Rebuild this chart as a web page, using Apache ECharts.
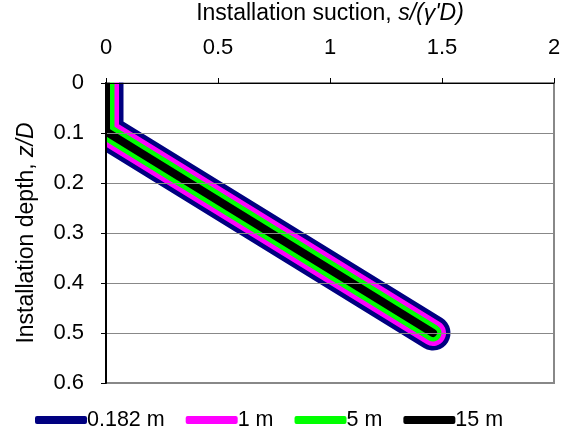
<!DOCTYPE html>
<html>
<head>
<meta charset="utf-8">
<script src="https://cdn.jsdelivr.net/npm/echarts@6/dist/echarts.min.js"></script>
<style>
html,body{margin:0;padding:0;background:#fff;}
#c{width:570px;height:439px;}
</style>
</head>
<body>
<div id="c"></div>
<script>
// Data
const seriesNames = ['0.182 m', '1 m', '5 m', '15 m'];
const seriesColors = ['#000080', '#FF00FF', '#00FF00', '#000000'];
const depth_0182 = [0, 0.097, 0.5];
const suction_0182 = [0, 0, 1.46];
const depth_1 = [0, 0.097, 0.5];
const suction_1 = [0, 0, 1.46];
const depth_5 = [0, 0.097, 0.5];
const suction_5 = [0, 0, 1.46];
const depth_15 = [0, 0.097, 0.5];
const suction_15 = [0, 0, 1.46];
const xTicks = [0, 0.5, 1, 1.5, 2];
const yTicks = [0, 0.1, 0.2, 0.3, 0.4, 0.5, 0.6];

const depths = [depth_0182, depth_1, depth_5, depth_15];
const suctions = [suction_0182, suction_1, suction_5, suction_15];
const widths = [35, 26, 17, 8];
const FONT = 'Liberation Sans';

const chart = echarts.init(document.getElementById('c'), null, {renderer: 'canvas'});
chart.setOption({
  animation: false,
  backgroundColor: '#fff',
  textStyle: {fontFamily: FONT},
  grid: {left: 106, right: 16, top: 83, bottom: 56, outerBoundsMode: 'none', containLabel: false,
         show: true, borderColor: '#888', borderWidth: 2, backgroundColor: 'transparent'},
  // white masks (own layer) so the thick strokes are cut at the plot edge, as in the reference
  graphic: {
    zlevel: 1,
    elements: [
      {type: 'rect', zlevel: 1, silent: true, shape: {x: 40, y: 40, width: 65, height: 120}, style: {fill: '#fff'}},
      {type: 'rect', zlevel: 1, silent: true, shape: {x: 40, y: 40, width: 200, height: 42.5}, style: {fill: '#fff'}}
    ]
  },
  legend: {
    bottom: 3, left: 30,
    icon: 'roundRect', itemWidth: 52, itemHeight: 8, itemGap: 21,
    textStyle: {fontFamily: FONT, fontSize: 21.5, color: '#000', padding: [0, 0, 0, -5]},
    data: seriesNames
  },
  xAxis: {
    type: 'value', position: 'top', zlevel: 2, min: xTicks[0], max: xTicks[xTicks.length - 1], interval: 0.5,
    name: '{a|Installation suction, }{b|s/(γ\'D)}',
    nameLocation: 'middle', nameGap: 58,
    nameTextStyle: {rich: {a: {fontFamily: FONT, fontSize: 23, color: '#000'}, b: {fontFamily: FONT, fontSize: 23, color: '#000', fontStyle: 'italic'}}},
    axisLine: {show: true, lineStyle: {color: '#000', width: 1}},
    axisTick: {show: true, length: 5, lineStyle: {color: '#000'}},
    axisLabel: {fontFamily: FONT, fontSize: 22, color: '#000', margin: 24},
    splitLine: {show: false}
  },
  yAxis: {
    type: 'value', inverse: true, zlevel: 2, min: yTicks[0], max: yTicks[yTicks.length - 1], interval: 0.1,
    name: '{a|Installation depth, }{b|z/D}',
    nameLocation: 'middle', nameGap: 68, nameRotate: 90,
    nameTextStyle: {rich: {a: {fontFamily: FONT, fontSize: 23, color: '#000'}, b: {fontFamily: FONT, fontSize: 23, color: '#000', fontStyle: 'italic'}}},
    axisLine: {show: true, lineStyle: {color: '#000', width: 2}},
    axisTick: {show: true, length: 5, lineStyle: {color: '#000'}},
    axisLabel: {fontFamily: FONT, fontSize: 22, color: '#000', margin: 22},
    splitLine: {show: true, lineStyle: {color: '#888', width: 1}}
  },
  series: seriesNames.map((n, i) => ({
    name: n, type: 'line', symbol: 'none', clip: true, zlevel: 0,
    data: suctions[i].map((s, k) => [s, depths[i][k]]),
    itemStyle: {color: seriesColors[i]},
    lineStyle: {color: seriesColors[i], width: widths[i], cap: 'round', join: 'round'}
  }))
});
</script>
</body>
</html>
